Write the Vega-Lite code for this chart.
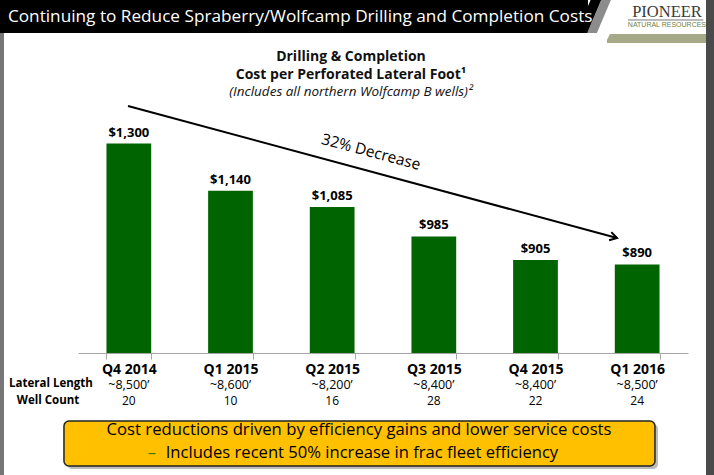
{
  "$schema": "https://vega.github.io/schema/vega-lite/v6.json",
  "width": 610,
  "height": 239,
  "autosize": "none",
  "padding": {"left": 78, "top": 114, "right": 26, "bottom": 122},
  "background": "white",
  "config": {"view": {"stroke": null}, "font": "Open Sans"},
  "datasets": {
    "costs": [
      {"quarter": "Q4 2014", "cost": 1300, "lateral": "~8,500’", "wells": "20"},
      {"quarter": "Q1 2015", "cost": 1140, "lateral": "~8,600’", "wells": "10"},
      {"quarter": "Q2 2015", "cost": 1085, "lateral": "~8,200’", "wells": "16"},
      {"quarter": "Q3 2015", "cost": 985, "lateral": "~8,400’", "wells": "28"},
      {"quarter": "Q4 2015", "cost": 905, "lateral": "~8,400’", "wells": "22"},
      {"quarter": "Q1 2016", "cost": 890, "lateral": "~8,500’", "wells": "24"}
    ]
  },
  "data": {"name": "costs"},
  "resolve": {"scale": {"x": "independent"}},
  "layer": [
    {
      "data": {"values": [{}]},
      "layer": [
        {
          "mark": {"type": "rect", "color": "#000000"},
          "encoding": {
            "x": {"datum": -0.8, "type": "quantitative", "scale": {"domain": [0, 6], "nice": false, "zero": false}, "axis": null},
            "x2": {"datum": 5.016},
            "y": {"datum": 1810, "type": "quantitative", "scale": {"domain": [590, 1400], "nice": false, "zero": false}, "axis": null},
            "y2": {"datum": 1674.5}
          }
        },
        {
          "mark": {"type": "rule", "color": "#000000", "strokeWidth": 10},
          "encoding": {
            "x": {"datum": 5.116, "type": "quantitative", "scale": {"domain": [0, 6], "nice": false, "zero": false}, "axis": null},
            "x2": {"datum": 4.937},
            "y": {"datum": 1803.3, "type": "quantitative", "scale": {"domain": [590, 1400], "nice": false, "zero": false}, "axis": null},
            "y2": {"datum": 1657.6}
          }
        },
        {
          "mark": {"type": "rule", "color": "#8c8c8c", "strokeWidth": 9},
          "encoding": {
            "x": {"datum": 5.214, "type": "quantitative", "scale": {"domain": [0, 6], "nice": false, "zero": false}, "axis": null},
            "x2": {"datum": 5.035},
            "y": {"datum": 1803.3, "type": "quantitative", "scale": {"domain": [590, 1400], "nice": false, "zero": false}, "axis": null},
            "y2": {"datum": 1657.6}
          }
        },
        {
          "mark": {"type": "rect", "color": "#ffffff"},
          "encoding": {
            "x": {"datum": -0.728, "type": "quantitative", "scale": {"domain": [0, 6], "nice": false, "zero": false}, "axis": null},
            "x2": {"datum": 6.177},
            "y": {"datum": 1674.5, "type": "quantitative", "scale": {"domain": [590, 1400], "nice": false, "zero": false}, "axis": null},
            "y2": {"datum": 1623.7}
          }
        },
        {
          "mark": {"type": "rect", "color": "#a6a988"},
          "encoding": {
            "x": {"datum": 5.203, "type": "quantitative", "scale": {"domain": [0, 6], "nice": false, "zero": false}, "axis": null},
            "x2": {"datum": 6.177},
            "y": {"datum": 1671.1, "type": "quantitative", "scale": {"domain": [590, 1400], "nice": false, "zero": false}, "axis": null},
            "y2": {"datum": 1640.6}
          }
        },
        {
          "mark": {"type": "rule", "color": "#ffffff", "strokeWidth": 5},
          "encoding": {
            "x": {"datum": 5.21, "type": "quantitative", "scale": {"domain": [0, 6], "nice": false, "zero": false}, "axis": null},
            "x2": {"datum": 5.155},
            "y": {"datum": 1674, "type": "quantitative", "scale": {"domain": [590, 1400], "nice": false, "zero": false}, "axis": null},
            "y2": {"datum": 1638}
          }
        },
        {
          "mark": {"type": "rect", "color": "#4a4a4a"},
          "encoding": {
            "x": {"datum": 6.177, "type": "quantitative", "scale": {"domain": [0, 6], "nice": false, "zero": false}, "axis": null},
            "x2": {"datum": 6.3},
            "y": {"datum": 1810, "type": "quantitative", "scale": {"domain": [590, 1400], "nice": false, "zero": false}, "axis": null},
            "y2": {"datum": 150}
          }
        },
        {
          "mark": {"type": "rect", "color": "#767676"},
          "encoding": {
            "x": {"datum": -0.8, "type": "quantitative", "scale": {"domain": [0, 6], "nice": false, "zero": false}, "axis": null},
            "x2": {"datum": -0.728},
            "y": {"datum": 1674.5, "type": "quantitative", "scale": {"domain": [590, 1400], "nice": false, "zero": false}, "axis": null},
            "y2": {"datum": 150}
          }
        },
        {
          "mark": {"type": "text", "font": "Liberation Serif", "fontSize": 16.5, "color": "#3a3a3a", "align": "center", "baseline": "alphabetic"},
          "encoding": {
            "x": {"datum": 5.793, "type": "quantitative", "scale": {"domain": [0, 6], "nice": false, "zero": false}, "axis": null},
            "y": {"datum": 1728.7, "type": "quantitative", "scale": {"domain": [590, 1400], "nice": false, "zero": false}, "axis": null},
            "text": {"value": "PIONEER"}
          }
        },
        {
          "mark": {"type": "rule", "color": "#777777", "strokeWidth": 1},
          "encoding": {
            "x": {"datum": 5.41, "type": "quantitative", "scale": {"domain": [0, 6], "nice": false, "zero": false}, "axis": null},
            "x2": {"datum": 6.15},
            "y": {"datum": 1718.6, "type": "quantitative", "scale": {"domain": [590, 1400], "nice": false, "zero": false}, "axis": null}
          }
        },
        {
          "mark": {"type": "text", "font": "Liberation Sans", "fontSize": 7, "color": "#6f7f45", "align": "center", "baseline": "alphabetic"},
          "encoding": {
            "x": {"datum": 5.793, "type": "quantitative", "scale": {"domain": [0, 6], "nice": false, "zero": false}, "axis": null},
            "y": {"datum": 1694.8, "type": "quantitative", "scale": {"domain": [590, 1400], "nice": false, "zero": false}, "axis": null},
            "text": {"value": "NATURAL RESOURCES"}
          }
        },
        {
          "mark": {"type": "text", "font": "Open Sans", "fontSize": 17.2, "fontWeight": 500, "color": "#ffffff", "align": "left", "baseline": "alphabetic"},
          "encoding": {
            "x": {"datum": -0.689, "type": "quantitative", "scale": {"domain": [0, 6], "nice": false, "zero": false}, "axis": null},
            "y": {"datum": 1711.8, "type": "quantitative", "scale": {"domain": [590, 1400], "nice": false, "zero": false}, "axis": null},
            "text": {"value": "Continuing to Reduce Spraberry/Wolfcamp Drilling and Completion Costs"}
          }
        },
        {
          "mark": {"type": "text", "fontSize": 14, "fontWeight": "bold", "color": "#111111", "align": "center", "baseline": "alphabetic"},
          "encoding": {
            "x": {"datum": 2.685, "type": "quantitative", "scale": {"domain": [0, 6], "nice": false, "zero": false}, "axis": null},
            "y": {"datum": 1579.6, "type": "quantitative", "scale": {"domain": [590, 1400], "nice": false, "zero": false}, "axis": null},
            "text": {"value": "Drilling & Completion"}
          }
        },
        {
          "mark": {"type": "text", "fontSize": 14, "fontWeight": "bold", "color": "#111111", "align": "center", "baseline": "alphabetic"},
          "encoding": {
            "x": {"datum": 2.685, "type": "quantitative", "scale": {"domain": [0, 6], "nice": false, "zero": false}, "axis": null},
            "y": {"datum": 1518.6, "type": "quantitative", "scale": {"domain": [590, 1400], "nice": false, "zero": false}, "axis": null},
            "text": {"value": "Cost per Perforated Lateral Foot¹"}
          }
        },
        {
          "mark": {"type": "text", "fontSize": 13.5, "fontStyle": "italic", "color": "#111111", "align": "center", "baseline": "alphabetic"},
          "encoding": {
            "x": {"datum": 2.685, "type": "quantitative", "scale": {"domain": [0, 6], "nice": false, "zero": false}, "axis": null},
            "y": {"datum": 1461.0, "type": "quantitative", "scale": {"domain": [590, 1400], "nice": false, "zero": false}, "axis": null},
            "text": {"value": "(Includes all northern Wolfcamp B wells)²"}
          }
        },
        {
          "mark": {"type": "rule", "color": "#000000", "strokeWidth": 2},
          "encoding": {
            "x": {"datum": 0.492, "type": "quantitative", "scale": {"domain": [0, 6], "nice": false, "zero": false}, "axis": null},
            "x2": {"datum": 5.302},
            "y": {"datum": 1427.1, "type": "quantitative", "scale": {"domain": [590, 1400], "nice": false, "zero": false}, "axis": null},
            "y2": {"datum": 979.7}
          }
        },
        {
          "mark": {"type": "point", "shape": "M-1,-0.6L0,0L-1,0.6", "filled": false, "stroke": "#000000", "strokeWidth": 2, "angle": 15, "size": 200, "opacity": 1},
          "encoding": {
            "x": {"datum": 5.302, "type": "quantitative", "scale": {"domain": [0, 6], "nice": false, "zero": false}, "axis": null},
            "y": {"datum": 979.7, "type": "quantitative", "scale": {"domain": [590, 1400], "nice": false, "zero": false}, "axis": null}
          }
        },
        {
          "mark": {"type": "text", "fontSize": 15.5, "color": "#000000", "align": "center", "baseline": "middle", "angle": 15},
          "encoding": {
            "x": {"datum": 2.882, "type": "quantitative", "scale": {"domain": [0, 6], "nice": false, "zero": false}, "axis": null},
            "y": {"datum": 1271.2, "type": "quantitative", "scale": {"domain": [590, 1400], "nice": false, "zero": false}, "axis": null},
            "text": {"value": "32% Decrease"}
          }
        },
        {
          "mark": {"type": "text", "fontSize": 11.5, "fontWeight": "bold", "color": "#000000", "align": "center", "baseline": "middle"},
          "encoding": {
            "x": {"datum": -0.266, "type": "quantitative", "scale": {"domain": [0, 6], "nice": false, "zero": false}, "axis": null},
            "y": {"datum": 484.9, "type": "quantitative", "scale": {"domain": [590, 1400], "nice": false, "zero": false}, "axis": null},
            "text": {"value": "Lateral Length"}
          }
        },
        {
          "mark": {"type": "text", "fontSize": 11.5, "fontWeight": "bold", "color": "#000000", "align": "center", "baseline": "middle"},
          "encoding": {
            "x": {"datum": -0.295, "type": "quantitative", "scale": {"domain": [0, 6], "nice": false, "zero": false}, "axis": null},
            "y": {"datum": 427.3, "type": "quantitative", "scale": {"domain": [590, 1400], "nice": false, "zero": false}, "axis": null},
            "text": {"value": "Well Count"}
          }
        },
        {
          "mark": {"type": "rect", "color": "#bdbdbd", "cornerRadius": 5},
          "encoding": {
            "x": {"datum": -0.108, "type": "quantitative", "scale": {"domain": [0, 6], "nice": false, "zero": false}, "axis": null},
            "x2": {"datum": 5.705},
            "y": {"datum": 349.4, "type": "quantitative", "scale": {"domain": [590, 1400], "nice": false, "zero": false}, "axis": null},
            "y2": {"datum": 196.9}
          }
        },
        {
          "mark": {"type": "rect", "fill": "#ffc000", "stroke": "#222222", "strokeWidth": 1.5, "cornerRadius": 5},
          "encoding": {
            "x": {"datum": -0.138, "type": "quantitative", "scale": {"domain": [0, 6], "nice": false, "zero": false}, "axis": null},
            "x2": {"datum": 5.675},
            "y": {"datum": 359.5, "type": "quantitative", "scale": {"domain": [590, 1400], "nice": false, "zero": false}, "axis": null},
            "y2": {"datum": 207.0}
          }
        },
        {
          "mark": {"type": "text", "fontSize": 16.7, "color": "#000000", "align": "center", "baseline": "alphabetic"},
          "encoding": {
            "x": {"datum": 2.764, "type": "quantitative", "scale": {"domain": [0, 6], "nice": false, "zero": false}, "axis": null},
            "y": {"datum": 312.1, "type": "quantitative", "scale": {"domain": [590, 1400], "nice": false, "zero": false}, "axis": null},
            "text": {"value": "Cost reductions driven by efficiency gains and lower service costs"}
          }
        },
        {
          "mark": {"type": "text", "fontSize": 16.6, "color": "#000000", "align": "center", "baseline": "alphabetic"},
          "encoding": {
            "x": {"datum": 2.793, "type": "quantitative", "scale": {"domain": [0, 6], "nice": false, "zero": false}, "axis": null},
            "y": {"datum": 234.1, "type": "quantitative", "scale": {"domain": [590, 1400], "nice": false, "zero": false}, "axis": null},
            "text": {"value": "Includes recent 50% increase in frac fleet efficiency"}
          }
        },
        {
          "mark": {"type": "text", "fontSize": 16, "color": "#3d7a1e", "align": "center", "baseline": "alphabetic"},
          "encoding": {
            "x": {"datum": 0.728, "type": "quantitative", "scale": {"domain": [0, 6], "nice": false, "zero": false}, "axis": null},
            "y": {"datum": 234.1, "type": "quantitative", "scale": {"domain": [590, 1400], "nice": false, "zero": false}, "axis": null},
            "text": {"value": "–"}
          }
        }
      ]
    },
    {
      "encoding": {
        "x": {
          "field": "quarter",
          "type": "nominal",
          "sort": null,
          "scale": {"paddingInner": 0.56, "paddingOuter": 0.28},
          "axis": {
            "title": null,
            "labelAngle": 0,
            "labelFontSize": 14,
            "labelFontWeight": "bold",
            "labelColor": "#000000",
            "labelPadding": 3,
            "domainColor": "#a6a6a6",
            "tickColor": "#a6a6a6",
            "tickSize": 6,
            "tickBand": "extent"
          }
        }
      },
      "layer": [
        {
          "mark": {"type": "bar", "color": "#006400"},
          "encoding": {
            "y": {"field": "cost", "type": "quantitative", "scale": {"domain": [590, 1400], "nice": false, "zero": false}, "axis": null},
            "y2": {"datum": 590}
          }
        },
        {
          "mark": {"type": "text", "fontSize": 13, "fontWeight": "bold", "color": "#000000", "baseline": "alphabetic", "dy": -7},
          "encoding": {
            "y": {"field": "cost", "type": "quantitative", "scale": {"domain": [590, 1400], "nice": false, "zero": false}, "axis": null},
            "text": {"field": "cost", "type": "quantitative", "format": "$,"}
          }
        },
        {
          "mark": {"type": "text", "fontSize": 12.5, "color": "#000000", "baseline": "middle", "dy": 1},
          "encoding": {
            "y": {"datum": 484.9, "type": "quantitative", "scale": {"domain": [590, 1400], "nice": false, "zero": false}, "axis": null},
            "text": {"field": "lateral"}
          }
        },
        {
          "mark": {"type": "text", "fontSize": 12, "color": "#000000", "baseline": "middle"},
          "encoding": {
            "y": {"datum": 427.3, "type": "quantitative", "scale": {"domain": [590, 1400], "nice": false, "zero": false}, "axis": null},
            "text": {"field": "wells"}
          }
        }
      ]
    }
  ]
}
